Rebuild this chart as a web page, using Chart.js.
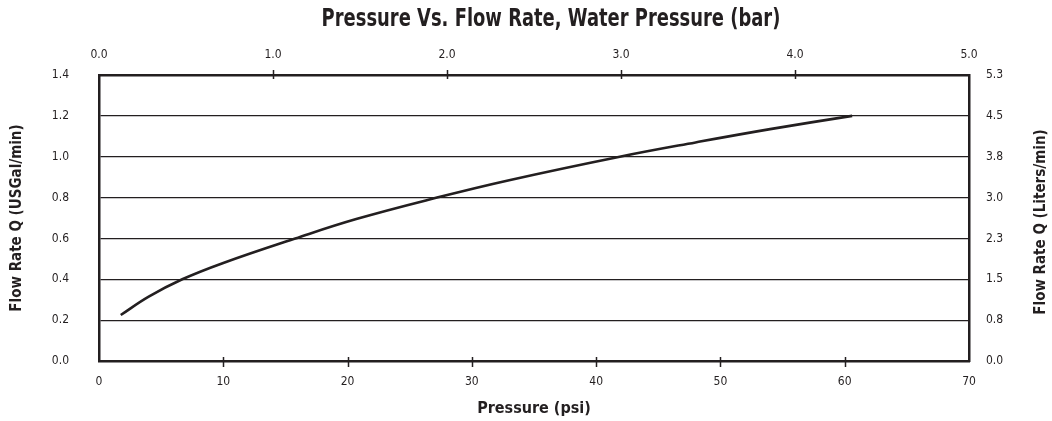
<!DOCTYPE html>
<html>
<head>
<meta charset="utf-8">
<script src="https://cdn.jsdelivr.net/npm/chart.js@4.4.0/dist/chart.umd.min.js"></script>
<style>
  html, body { margin: 0; padding: 0; background: #fff; }
  #wrap { width: 1052px; height: 421px; }
</style>
</head>
<body>
<div id="wrap"><canvas id="c" width="1052" height="421"></canvas></div>
<script>
// ---- data ----
const pressurePsi = [1.75, 4.0, 6.7, 10.0, 15.8, 20.7, 27.2, 33.0, 41.9, 48.0, 54.0, 60.6];
const flowGpm     = [0.225, 0.315, 0.40, 0.48, 0.60, 0.695, 0.80, 0.885, 1.00, 1.07, 1.135, 1.20];

const bottomTickLabels = ['0', '10', '20', '30', '40', '50', '60', '70'];
const topTickLabels    = ['0.0', '1.0', '2.0', '3.0', '4.0', '5.0'];
const leftTickLabels   = ['0.0', '0.2', '0.4', '0.6', '0.8', '1.0', '1.2', '1.4'];
const rightTickLabels  = ['0.0', '0.8', '1.5', '2.3', '3.0', '3.8', '4.5', '5.3'];

const chartTitle  = 'Pressure Vs. Flow Rate, Water Pressure (bar)';
const xTitle      = 'Pressure (psi)';
const yLeftTitle  = 'Flow Rate Q (USGal/min)';
const yRightTitle = 'Flow Rate Q (Liters/min)';

const INK = '#231f20';
const FAMILY = "'Liberation Sans Narrow', 'DejaVu Sans Condensed', 'Arial Narrow', sans-serif";

const extras = {
  id: 'extras',
  afterDraw(chart) {
    const ctx = chart.ctx;
    const area = chart.chartArea;
    ctx.save();
    ctx.strokeStyle = INK;
    ctx.lineWidth = 1.5;
    // small tick marks crossing the frame
    const xs = chart.scales.x, xt = chart.scales.x2;
    xs.ticks.forEach((t, i) => {
      if (i === 0 || i === xs.ticks.length - 1) return;
      const px = Math.round(xs.getPixelForValue(t.value)) + 0.5;
      ctx.beginPath(); ctx.moveTo(px, area.bottom - 4); ctx.lineTo(px, area.bottom + 6); ctx.stroke();
    });
    xt.ticks.forEach((t, i) => {
      if (i === 0 || i === xt.ticks.length - 1) return;
      const px = Math.round(xt.getPixelForValue(t.value)) + 0.5;
      ctx.beginPath(); ctx.moveTo(px, area.top - 5); ctx.lineTo(px, area.top + 4); ctx.stroke();
    });
    // chart title (condensed horizontally like the reference face)
    ctx.fillStyle = INK;
    ctx.textAlign = 'center';
    ctx.textBaseline = 'middle';
    ctx.save();
    ctx.font = "bold 24px " + FAMILY;
    ctx.translate((area.left + area.right) / 2 + 17, 20);
    ctx.scale(0.83, 1);
    ctx.fillText(chartTitle, 0, 0);
    ctx.restore();
    // right axis title (reads bottom to top)
    ctx.font = "bold 15px " + FAMILY;
    ctx.translate(1041, (area.top + area.bottom) / 2 + 4);
    ctx.rotate(-Math.PI / 2);
    ctx.fillText(yRightTitle, 0, 0);
    ctx.restore();
  }
};

const tickFont = { family: FAMILY, size: 12 };

new Chart(document.getElementById('c'), {
  type: 'scatter',
  data: {
    datasets: [{
      data: pressurePsi.map((p, i) => ({ x: p, y: flowGpm[i] })),
      showLine: true,
      borderColor: INK,
      borderWidth: 2.6,
      pointRadius: 0,
      tension: 0.4,
      xAxisID: 'x',
      yAxisID: 'y'
    }]
  },
  options: {
    responsive: false,
    animation: false,
    layout: { padding: 0 },
    plugins: { legend: { display: false }, tooltip: { enabled: false }, title: { display: false } },
    scales: {
      x: {
        type: 'linear', position: 'bottom', min: 0, max: 70,
        ticks: { stepSize: 10, color: INK, font: tickFont, padding: 14, maxRotation: 0,
                 callback: (v, i) => bottomTickLabels[i] },
        grid: { display: false, drawTicks: false },
        border: { display: true, color: INK, width: 2.5 },
        title: { display: true, text: xTitle, color: INK, font: { family: FAMILY, size: 16, weight: 'bold' },
                 padding: { top: 0, bottom: 3 } },
        afterFit: s => { s.height = 60; }
      },
      x2: {
        type: 'linear', position: 'top', min: 0, max: 5,
        ticks: { stepSize: 1, color: INK, font: tickFont, padding: 13, maxRotation: 0,
                 callback: (v, i) => topTickLabels[i] },
        grid: { display: false, drawTicks: false },
        border: { display: true, color: INK, width: 2.5 },
        afterFit: s => { s.height = 75; }
      },
      y: {
        type: 'linear', position: 'left', min: 0, max: 1.4,
        ticks: { stepSize: 0.2, color: INK, font: tickFont, padding: 30,
                 callback: (v, i) => leftTickLabels[i] },
        grid: { display: true, drawTicks: false, color: INK, lineWidth: 1.2 },
        border: { display: true, color: INK, width: 2.5 },
        title: { display: true, text: yLeftTitle, color: INK, font: { family: FAMILY, size: 15, weight: 'bold' },
                 padding: { top: 8, bottom: 0 } },
        afterFit: s => { s.width = 99; }
      },
      y2: {
        type: 'linear', position: 'right', min: 0, max: 1.4,
        ticks: { stepSize: 0.2, color: INK, font: tickFont, padding: 17,
                 callback: (v, i) => rightTickLabels[i] },
        grid: { display: false, drawTicks: false },
        border: { display: true, color: INK, width: 2.5 },
        afterFit: s => { s.width = 83; }
      }
    }
  },
  plugins: [extras]
});
</script>
</body>
</html>
